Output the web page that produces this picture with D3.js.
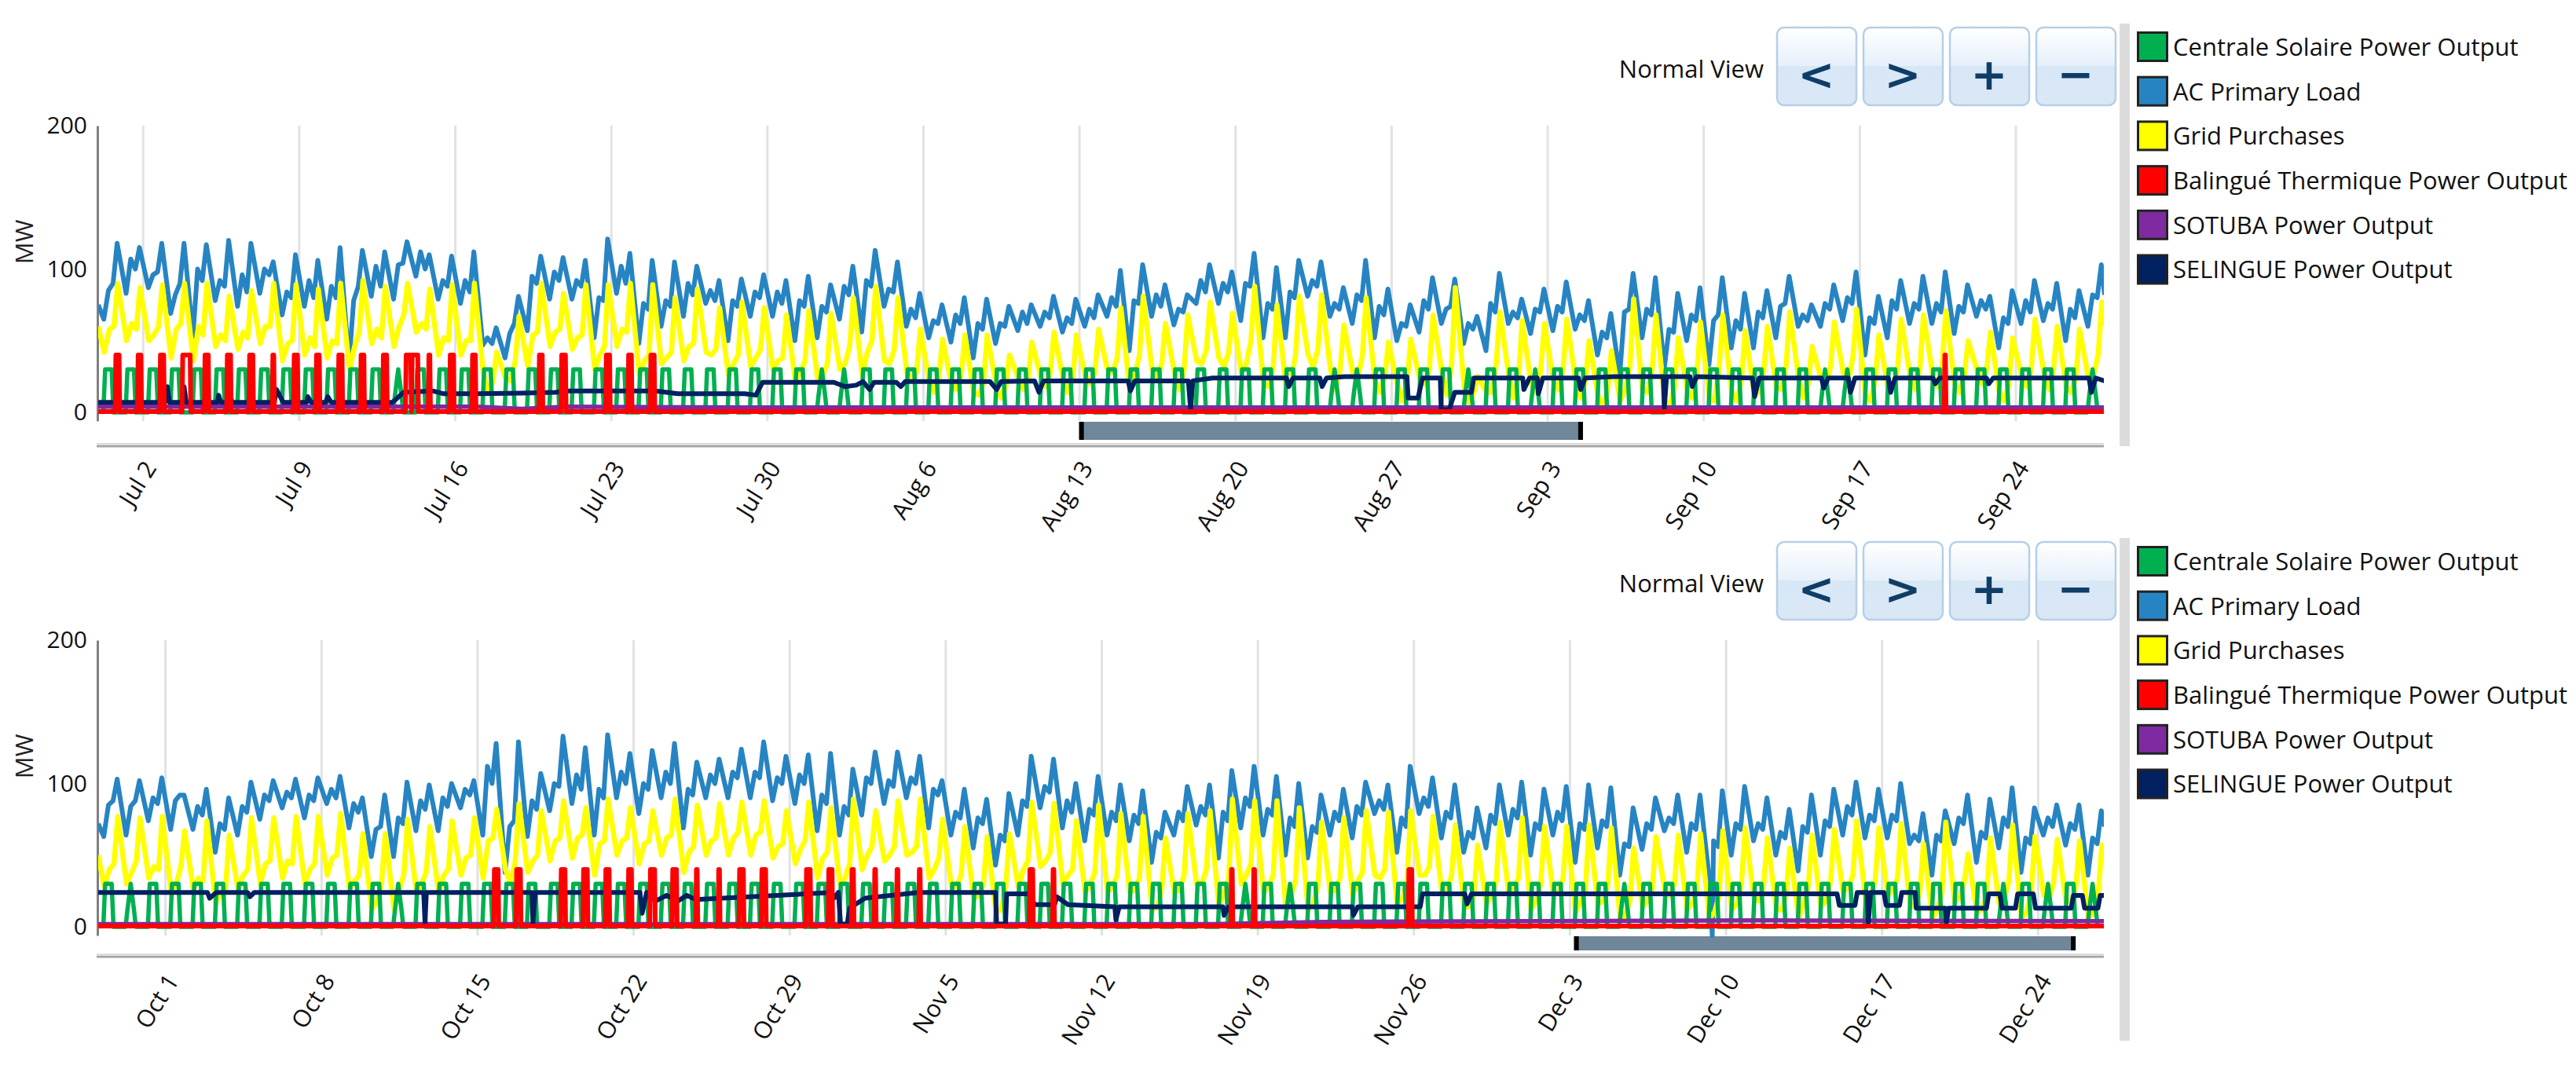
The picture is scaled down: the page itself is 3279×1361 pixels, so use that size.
<!DOCTYPE html>
<html><head><meta charset="utf-8">
<script src="https://cdn.jsdelivr.net/npm/d3@7/dist/d3.min.js"></script>
<style>html,body{margin:0;padding:0;background:#fff}svg{display:block}</style>
</head><body><svg id="c" width="3279" height="1361"></svg>
<script>
const legendNames=["Centrale Solaire Power Output","AC Primary Load","Grid Purchases","Balingué Thermique Power Output","SOTUBA Power Output","SELINGUE Power Output"];
const legendColors=["#00b050","#2784c3","#ffff00","#ff0000","#7f2aa0","#002060"];
const buttonGlyphs=["<",">","+","−"];
const yTicks=[0,100,200];
const dayStart1="2023-06-30",dayStart2="2023-09-28";
const ticks1=["2023-07-02","2023-07-09","2023-07-16","2023-07-23","2023-07-30","2023-08-06","2023-08-13","2023-08-20","2023-08-27","2023-09-03","2023-09-10","2023-09-17","2023-09-24"];
const ticks2=["2023-10-01","2023-10-08","2023-10-15","2023-10-22","2023-10-29","2023-11-05","2023-11-12","2023-11-19","2023-11-26","2023-12-03","2023-12-10","2023-12-17","2023-12-24"];
const rangeBar1=[44,66.6],rangeBar2=[66.2,88.7];
const loadHours=[6,11,16,20.4],gridHours=[6.5,12,17,21];

const load1Trough=[65,83,87,69,53,78,74,83,68,74,65,34,81,79,95,79,76,47,38,57,79,79,52,83,48,60,67,76,50,67,67,50,52,65,56,74,60,52,49,38,48,57,60,56,60,67,43,67,61,76,76,64,52,52,81,67,62,52,50,56,62,48,43,62,55,57,58,40,26,52,31,50,33,45,45,52,60,60,64,40,52,62,62,55,67,45,62,64,50,60];
const load1Shoulder=[85,107,96,82,100,92,96,100,84,92,88,78,102,103,112,92,92,52,55,95,98,92,80,102,76,78,90,85,78,84,84,78,74,88,92,86,72,64,68,62,62,70,70,66,72,80,78,82,72,92,90,90,76,84,92,76,82,74,62,78,72,62,76,70,72,74,68,56,70,72,58,68,64,64,70,74,68,76,80,66,78,76,76,74,78,66,78,76,72,82];
const load1Dip=[90,100,98,90,92,88,84,96,80,80,80,88,88,104,100,88,84,48,62,90,92,88,78,90,72,74,82,78,74,80,76,74,70,82,88,84,66,62,62,58,60,62,66,62,66,74,76,74,70,84,84,88,72,80,88,72,78,68,60,72,74,58,70,66,70,70,64,52,72,68,56,64,68,58,66,76,64,72,76,62,72,72,70,70,72,62,70,72,66,80];
const load1Peak=[118,115,118,118,117,120,118,105,110,106,115,113,112,119,110,109,112,59,81,109,108,106,121,111,106,105,102,92,93,96,92,95,89,102,113,105,83,75,80,79,74,75,81,79,82,99,103,89,82,103,98,111,101,106,105,87,106,86,75,94,93,67,97,79,86,91,78,69,97,94,83,87,94,83,85,95,75,89,98,81,92,95,98,89,81,85,92,90,85,103];
const grid1Night=[42,50,50,38,36,46,44,48,36,40,38,30,48,46,56,40,40,28,24,32,46,44,30,46,26,34,36,42,26,32,30,22,24,30,26,36,28,22,20,14,20,24,26,24,26,30,16,30,28,36,38,28,20,20,40,30,28,22,20,24,28,18,14,26,20,22,22,12,8,16,8,16,10,14,14,18,24,24,28,12,18,26,28,20,30,14,26,28,18,24];
const grid1Noon=[58,62,54,58,60,54,56,60,48,52,50,46,58,60,62,52,50,14,22,54,56,52,40,58,36,38,46,40,34,38,36,28,26,34,42,34,22,14,16,12,10,16,18,14,20,28,26,24,16,34,32,34,18,22,32,16,24,14,8,20,12,6,14,10,14,16,10,4,16,14,4,10,8,8,14,16,10,18,22,8,18,16,18,14,20,8,18,16,14,26];
const grid1Eve=[60,58,60,62,54,50,52,60,50,46,48,56,52,68,58,50,50,22,36,56,58,54,46,56,40,42,48,44,40,44,38,36,34,46,50,44,28,24,26,20,18,22,28,22,28,38,40,34,30,44,42,50,32,40,44,30,40,24,20,30,34,14,34,24,30,30,22,16,32,30,18,26,30,22,28,32,20,32,38,22,30,30,32,26,30,20,30,30,24,40];
const grid1Peak=[90,87,89,90,90,81,85,90,89,86,90,92,88,90,86,89,90,42,67,90,83,89,89,90,89,80,86,73,77,73,68,71,69,80,88,80,58,51,54,54,40,49,56,54,58,73,81,62,68,77,69,88,75,81,82,61,80,49,51,68,87,25,70,64,62,65,50,43,79,68,52,63,68,57,60,70,46,63,72,54,65,68,71,50,56,52,65,60,58,77];

const load2Trough=[63,64,74,68,68,52,64,75,83,76,86,69,49,49,67,67,83,64,38,63,81,86,64,90,79,90,69,90,90,90,88,86,67,64,78,86,90,69,64,55,43,64,83,69,60,64,60,45,64,71,48,69,64,50,48,64,62,79,52,79,62,52,55,64,50,64,45,55,36,54,67,52,36,50,60,50,39,50,64,62,62,58,36,58,45,55,38,64,57,36];
const load2Shoulder=[85,84,90,88,84,72,84,92,94,92,96,86,68,76,88,90,96,112,70,88,100,106,96,108,100,108,96,106,108,108,104,106,92,84,104,102,104,96,80,76,64,88,98,88,82,80,78,66,80,84,80,90,82,76,70,80,84,88,76,90,80,66,78,82,72,80,72,74,58,72,76,72,60,72,72,66,70,74,84,78,78,64,64,76,66,76,62,76,72,62];
const load2Dip=[88,88,86,92,78,68,80,88,90,88,90,80,70,72,82,84,92,100,74,82,98,96,90,100,96,100,92,100,104,104,100,100,86,78,100,98,100,92,76,72,60,84,94,80,78,74,72,62,74,78,74,84,78,70,66,74,78,82,70,84,76,62,72,76,68,74,68,70,56,68,72,68,56,68,68,62,66,70,78,74,74,60,60,72,62,70,58,70,68,58];
const load2Peak=[103,102,104,92,96,90,101,102,103,104,105,90,92,101,99,100,102,128,129,107,133,125,134,121,123,128,115,117,124,129,119,120,121,110,122,122,119,102,96,89,93,119,117,100,105,99,95,80,98,99,109,112,105,100,92,96,101,99,112,104,99,83,99,101,96,98,99,97,83,90,92,92,95,98,90,82,92,96,101,96,100,79,81,92,89,97,83,85,85,81];
const grid2Night=[28,30,34,24,26,16,26,30,34,30,36,26,12,12,24,24,36,34,40,38,46,48,36,50,44,50,38,50,50,50,48,44,34,30,40,46,50,34,28,20,10,28,42,30,24,24,24,12,24,30,14,30,24,14,12,24,22,36,16,36,24,14,16,24,12,24,10,16,6,14,26,12,6,12,20,12,6,14,24,20,22,16,6,18,10,16,6,22,18,6];
const grid2Noon=[40,38,42,30,34,24,36,44,46,40,48,32,18,26,30,36,48,60,30,46,60,62,58,60,58,62,52,60,62,64,56,54,48,34,50,50,52,40,28,22,12,40,46,36,30,28,26,14,26,30,24,36,28,22,16,26,32,34,20,36,24,14,22,26,18,24,18,18,8,18,22,16,10,16,18,12,16,18,28,22,26,14,12,20,12,20,10,20,18,10];
const grid2Eve=[44,46,40,42,32,26,40,46,44,44,50,36,30,36,38,40,50,62,46,50,62,64,60,62,60,64,56,62,66,66,58,60,52,44,56,56,56,48,36,30,28,46,52,40,38,36,34,26,36,40,34,44,36,32,28,34,38,40,32,42,36,22,32,34,30,34,26,28,18,26,30,26,22,30,30,22,28,32,36,32,34,24,24,32,22,32,24,30,28,22];
const grid2Peak=[77,76,77,67,74,64,76,76,77,77,79,65,65,75,70,74,76,82,86,81,88,83,89,83,81,89,85,86,87,88,81,87,83,89,81,88,89,75,70,63,65,87,86,74,85,79,77,62,79,81,89,88,88,83,73,76,81,80,81,77,71,57,73,76,70,70,71,69,55,63,64,65,67,69,62,55,64,68,74,69,72,58,73,51,62,71,63,61,60,57];

const load1Ends=[75,82],grid1Ends=[60,60],load2Ends=[72,70],grid2Ends=[50,45];
const load2DipDay=[72.4],load2DipValue=[-6];

const solarHours=[5.5,7.5,11,14.5,16.5];
const solarPlateau=30,solarCloudy=12;
const solar1CloudyDays=[13,32,33,55,56,61,64,77,78,89];
const solar2CloudyDays=[1,13,51,53,68,85,87,89];

const redOn=40,redOff=0.6;
const red1Days=[0,1,2,3,4,5,6,7,8,9,10,11,12,13,13,14,15,16,19,20,22,23,24,82];
const red1Onset=[19,19,19,19,19,19,19,20,19,19,19,19,19,19.5,26,20,19,19,19,19,19,19,19,20];
const red1Offset=[22.5,22,22.5,27,22.5,22.5,22.5,21,22.5,22,22.5,22,22.5,24.5,32,21,22.5,22,22,23,22.5,22,22.5,20.6];
const red2Days=[17,18,20,21,22,23,24,25,26,27,28,29,31,32,33,34,35,36,41,42,50,51,58];
const red2Onset=[18.5,18.5,18.5,18.5,18.5,19,18.5,18.5,20,20,18.5,18.5,18.5,18.5,19.5,20,20,20,19,20,20,20,19];
const red2Offset=[22.5,22.5,22.5,22.5,22,22,23,22.5,20.8,20.8,22.5,22.5,22.5,22,21,20.8,20.8,20.8,22,20.8,20.8,20.8,22];

const sel1Day=[0,3,3.1,3.2,3.8,3.85,3.95,5.35,5.4,5.5,5.85,5.9,6,7.9,8,8.3,9.35,9.4,9.55,10.2,10.3,10.45,13.2,13.7,15,15.5,17,19,20.5,21,25,26,29,29.5,29.8,33,33.5,34,34.3,34.6,34.8,35.8,36,36.2,40,40.3,40.5,42,42.2,42.4,46.2,46.3,46.5,48.9,49,49.1,50,53.3,53.4,53.6,54.8,54.9,55.1,55.9,58.7,58.76,59.2,59.4,60.2,60.24,60.6,60.85,61.6,61.7,63.9,63.95,64.2,64.55,64.6,64.8,66.4,66.5,66.7,68,70.2,70.25,70.35,71.4,71.5,71.7,74.2,74.3,74.5,77.3,77.4,77.6,78.5,78.6,78.8,80.3,80.4,80.6,82.3,82.4,82.6,84.7,84.8,85,89.3,89.4,89.6,90];
const sel1Value=[7,7,18,7,7,18,7,7,12,7,7,15,7,7,16,7,7,11,7,7,11,7,7,14,15,13,13,13.5,14,15,15,13,13,12,21,21,18,19,21.5,16,21,21,18,21.5,21.5,16,21.5,22,14,22,22,15,22,22,2,22,24,24,18,24,24,18,24,25,25,10,10,24,24,2,2,14,14,24,24,16,24,24,13,24,24,16,24,25,25,3,25,25,18,25,24,11,24,24,17,24,24,14,24,24,14,24,24,20,24,24,20,24,24,14,24,22];
const sel2Day=[0,4.9,5,5.3,6.7,6.8,7,14.6,14.66,14.72,19.45,19.5,19.6,24.3,24.4,24.6,25,25.5,26,26.4,26.8,32.9,33,33.2,33.3,33.6,33.7,34.4,36.8,40.25,40.3,40.7,40.75,41.8,42,42.9,43,43.5,45.6,45.65,45.8,50.45,50.5,50.7,56.25,56.3,56.5,59.3,59.4,61.3,61.4,61.6,78,78.1,78.8,78.9,79.35,79.4,79.5,80.1,80.2,80.8,80.9,81.5,81.55,82.85,82.9,83,84.7,84.8,85.3,85.4,86,86.1,86.8,86.9,88.5,88.6,89,89.1,89.7,89.8,90];
const sel2Value=[24,24,20,24,24,21,24,24,2.5,24,24,2.5,24,24,9.5,24,18,22,18,22,19,24,20,24,2,2,13,20,24,24,2,2,23,23,15.5,15.5,21,15.5,14,5,14,14,8,14,14,8,14,14,23,23,16,23,23,15,15,24,24,2.5,24,24,15,15,24,24,13,13,2.5,13,13,23,23,13,13,23,23,13,13,22,22,13,13,22,22];
const sot1Day=[0,17,19,21,29,90];
const sot1Value=[4,4,2.5,4,3.5,3.5];
const sot2Day=[0,50,55,75,90];
const sot2Value=[2,2,3.5,4.5,4];

const svg=d3.select("#c");
const FONT="'Open Sans',sans-serif";
const defs=svg.append("defs");
const grad=defs.append("linearGradient").attr("id","btn").attr("x1",0).attr("x2",0).attr("y1",0).attr("y2",1);
[[0,"#ffffff"],[0.49,"#e6f0fa"],[0.5,"#d8e7f6"],[1,"#dae8f6"]].forEach(s=>grad.append("stop").attr("offset",s[0]).attr("stop-color",s[1]));

function dayCurve(hours,arrays,ends){
  const pts=[{t:0,v:ends[0]}];
  arrays[0].forEach((_,d)=>hours.forEach((h,k)=>pts.push({t:d*24+h,v:arrays[k][d]})));
  pts.push({t:2160,v:ends[1]});
  return pts;
}
function solarCurve(cloudy){
  const pts=[];
  for(let d=0;d<90;d++){
    const s=cloudy.includes(d)?solarCloudy:solarPlateau;
    [0,s,solarPlateau,s,0].forEach((v,k)=>pts.push({t:d*24+solarHours[k],v}));
  }
  return pts;
}
function redCurve(days,on,off){
  const pts=[{t:0,v:redOff}];
  days.forEach((d,i)=>{
    const a=d*24+on[i],b=d*24+off[i];
    pts.push({t:a-0.7,v:redOff},{t:a,v:redOn},{t:b,v:redOn},{t:b+0.7,v:redOff});
  });
  pts.push({t:2160,v:redOff});
  return pts;
}
function sparse(days,vals){return days.map((d,i)=>({t:d*24,v:vals[i]}));}

function panel(o){
  const g=svg.append("g");
  const x=d3.scaleUtc().domain([new Date(o.start+"T00:00Z"),new Date(+new Date(o.start+"T00:00Z")+90*864e5)]).range([125,2679]);
  const y=d3.scaleLinear().domain([-6,200]).range([o.top+376,o.top]);
  const tx=t=>x(new Date(+x.domain()[0]+t*36e5));
  const clipId="clip"+o.top;
  defs.append("clipPath").attr("id",clipId).append("rect").attr("x",125).attr("y",o.top-5).attr("width",2553).attr("height",410);

  // x axis with grid lines
  const xAxis=d3.axisBottom(x).tickValues(o.ticks.map(s=>new Date(s+"T00:00Z"))).tickFormat(d3.utcFormat("%b %-d")).tickSizeInner(-376).tickSizeOuter(0);
  const gx=g.append("g").attr("transform",`translate(0,${o.top+376})`).call(xAxis);
  gx.select(".domain").remove();
  gx.selectAll("line").attr("stroke","#e2e2e2").attr("stroke-width",3);
  gx.selectAll("text").attr("font-family",FONT).attr("font-size",30.5).attr("fill","#111")
    .attr("text-anchor","end").attr("y",0).attr("dy",".35em")
    .attr("transform",`translate(9,${o.labelY-o.top-376}) rotate(-58)`);

  // y axis
  const yAxis=d3.axisLeft(y).tickValues(yTicks).tickSize(0).tickPadding(13);
  const gy=g.append("g").attr("transform","translate(124,0)").call(yAxis);
  gy.select(".domain").attr("stroke","#808080").attr("stroke-width",3);
  gy.selectAll("text").attr("font-family",FONT).attr("font-size",30).attr("fill","#111");
  g.append("text").text("MW").attr("font-family",FONT).attr("font-size",31).attr("fill","#222")
    .attr("text-anchor","middle").attr("transform",`translate(42,${o.top+148}) rotate(-90)`);

  // range bar
  const bx0=tx(o.bar[0]*24),bx1=tx(o.bar[1]*24);
  g.append("rect").attr("x",bx0).attr("y",o.barY).attr("width",bx1-bx0).attr("height",o.barH).attr("fill","#708699");
  [bx0,bx1-6].forEach(v=>g.append("rect").attr("x",v).attr("y",o.barY).attr("width",6).attr("height",o.barH).attr("fill","#000"));
  g.append("rect").attr("x",123).attr("y",o.baseY).attr("width",2555).attr("height",3).attr("fill","#dcdcdc");
  g.append("rect").attr("x",123).attr("y",o.baseY+3).attr("width",2555).attr("height",2.5).attr("fill","#a4a4a4");

  // series
  const line=d3.line().x(d=>tx(d.t)).y(d=>y(d.v)).curve(d3.curveLinear);
  const plot=g.append("g").attr("clip-path",`url(#${clipId})`).attr("fill","none").attr("stroke-linejoin","round");
  const draw=(pts,c,w)=>plot.append("path").attr("d",line(pts)).attr("stroke",c).attr("stroke-width",w);
  draw(o.load,legendColors[1],6);
  draw(o.grid,legendColors[2],6.5);
  draw(o.solar,legendColors[0],5.5);
  draw(o.sotuba,legendColors[4],5.5);
  draw(o.selingue,legendColors[5],6);
  draw(o.red,legendColors[3],6);

  // side bar
  g.append("rect").attr("x",2698).attr("y",o.top-130).attr("width",13).attr("height",o.sideH).attr("fill","#dcdcdc");

  // legend
  const lg=g.append("g").selectAll("g").data(legendNames).join("g")
    .attr("transform",(d,i)=>`translate(2720,${o.top-120+i*56.7})`);
  lg.append("rect").attr("x",1.5).attr("y",1.5).attr("width",37).attr("height",36)
    .attr("fill",(d,i)=>legendColors[i]).attr("stroke","#222").attr("stroke-width",3);
  lg.append("text").text(d=>d).attr("x",46).attr("y",20).attr("dy",".35em")
    .attr("font-family",FONT).attr("font-size",31).attr("fill","#111");

  // buttons
  g.append("text").text("Normal View").attr("x",2245).attr("y",o.top-72).attr("dy",".35em").attr("text-anchor","end")
    .attr("font-family",FONT).attr("font-size",31).attr("fill","#111");
  const bt=g.append("g").selectAll("g").data(buttonGlyphs).join("g").attr("transform",(d,i)=>`translate(${2261+i*110},${o.top-126})`);
  bt.append("rect").attr("x",1).attr("y",1).attr("width",101).attr("height",99).attr("rx",9).attr("fill","url(#btn)").attr("stroke","#b5cfe6").attr("stroke-width",2.5);
  bt.append("text").text(d=>d).attr("x",51).attr("y",60).attr("dy",".35em").attr("text-anchor","middle")
    .attr("font-family","'DejaVu Sans',sans-serif").attr("font-weight",700).attr("font-size",56).attr("fill","#0f3d66");
}

const load2Pts=dayCurve(loadHours,[load2Trough,load2Shoulder,load2Dip,load2Peak],load2Ends);
load2DipDay.forEach((d,i)=>load2Pts.push({t:d*24,v:load2DipValue[i]}));
load2Pts.sort((a,b)=>a.t-b.t);

panel({start:dayStart1,ticks:ticks1,top:160,labelY:590,bar:rangeBar1,barY:537,barH:23,baseY:564,sideH:538,
  load:dayCurve(loadHours,[load1Trough,load1Shoulder,load1Dip,load1Peak],load1Ends),
  grid:dayCurve(gridHours,[grid1Night,grid1Noon,grid1Eve,grid1Peak],grid1Ends),
  solar:solarCurve(solar1CloudyDays),red:redCurve(red1Days,red1Onset,red1Offset),
  selingue:sparse(sel1Day,sel1Value),sotuba:sparse(sot1Day,sot1Value)});
panel({start:dayStart2,ticks:ticks2,top:815,labelY:1243,bar:rangeBar2,barY:1192,barH:18,baseY:1214,sideH:640,
  load:load2Pts,
  grid:dayCurve(gridHours,[grid2Night,grid2Noon,grid2Eve,grid2Peak],grid2Ends),
  solar:solarCurve(solar2CloudyDays),red:redCurve(red2Days,red2Onset,red2Offset),
  selingue:sparse(sel2Day,sel2Value),sotuba:sparse(sot2Day,sot2Value)});
</script></body></html>
